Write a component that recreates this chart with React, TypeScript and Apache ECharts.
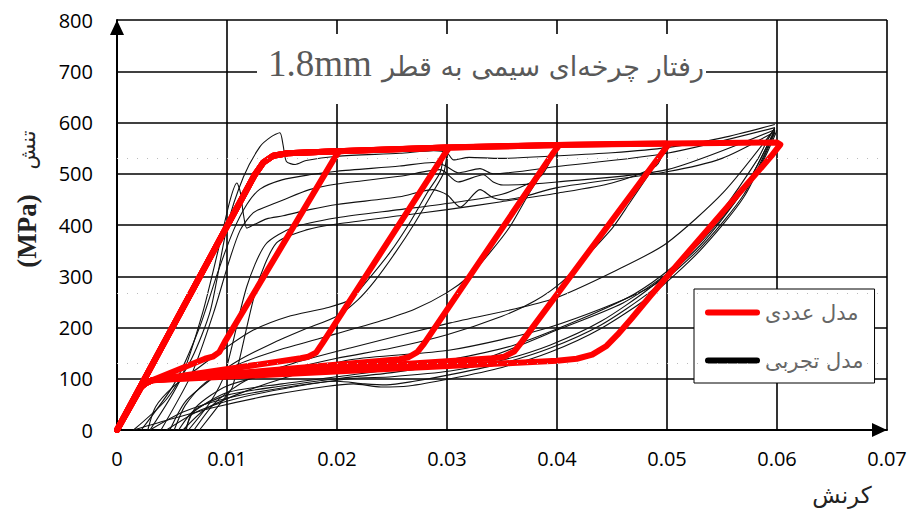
import React, { useEffect, useRef } from 'react';
import * as echarts from 'echarts';

// ---------- text ----------
const NUM = 'مدل عددی';
const EXP = 'مدل تجربی';
const titleLatin = '1.8mm';
const titleFa = 'رفتار چرخه‌ای سیمی به قطر';
const yNameLatin = '(MPa)';
const yNameFa = 'تنش';
const xNameFa = 'کرنش';

// ---------- axes ----------
const xMin = 0, xMax = 0.07, xStep = 0.01;
const yMin = 0, yMax = 800, yStep = 100;

// ---------- numerical model (red) loops ----------
const red02 = [[0,0],[0.0125,497],[0.0133,522],[0.0142,535],[0.0155,540],[0.0199,544],[0.0201,541],[0.0197,528],[0.0098,172],[0.0093,152],[0.0087,143],[0.0080,139],[0.0032,97],[0.0026,91],[0.0022,84],[0,0]];
const red03 = [[0,0],[0.0125,497],[0.0133,522],[0.0142,535],[0.0155,540],[0.0200,544],[0.0250,548],[0.0299,551],[0.0301,548],[0.0297,536],[0.0187,170],[0.0181,151],[0.0174,143],[0.0167,140],[0.0032,97],[0.0026,91],[0.0022,84],[0,0]];
const red04 = [[0,0],[0.0125,497],[0.0133,522],[0.0142,535],[0.0155,540],[0.0200,544],[0.0300,551],[0.0350,554],[0.0399,556],[0.0401,553],[0.0397,542],[0.0279,168],[0.0273,152],[0.0265,142],[0.0257,138],[0.0032,97],[0.0026,91],[0.0022,84],[0,0]];
const red05 = [[0,0],[0.0125,497],[0.0133,522],[0.0142,535],[0.0155,540],[0.0200,544],[0.0300,551],[0.0400,556],[0.0450,558],[0.0499,559],[0.0501,556],[0.0497,545],[0.0368,172],[0.0361,153],[0.0352,143],[0.0342,140],[0.0032,97],[0.0026,91],[0.0022,84],[0,0]];
const red06 = [[0,0],[0.0125,497],[0.0133,522],[0.0142,535],[0.0155,540],[0.0200,544],[0.0300,551],[0.0400,556],[0.0500,559],[0.0550,560],[0.0600,561],[0.0603,557],[0.0599,546],[0.0595,535],[0.0485,262],[0.0468,218],[0.0455,186],[0.0445,164],[0.0432,147],[0.0418,139],[0.0400,135],[0.0032,97],[0.0026,91],[0.0022,84],[0,0]];

// ---------- experimental (black) curves ----------
const K1 = [[0.0015,0],[0.0045,60],[0.0068,140],[0.0085,234],[0.0100,396],[0.0115,494],[0.0130,553],[0.0140,572],[0.0148,580],[0.0151,556],[0.0154,524],[0.0162,518],[0.0172,526],[0.0200,534],[0.0257,540],[0.0288,545],[0.0300,541],[0.0306,527],[0.0320,532],[0.0348,530],[0.0400,535],[0.0450,541],[0.0500,551],[0.0550,570],[0.0598,596]];
const K2 = [[0.0030,0],[0.0058,100],[0.0078,230],[0.0093,360],[0.0103,450],[0.0109,482],[0.0112,465],[0.0115,420],[0.0118,394],[0.0124,400],[0.0136,412],[0.0151,418],[0.0175,430],[0.0200,440],[0.0257,455],[0.0287,469],[0.0300,459],[0.0312,435],[0.0330,469],[0.0342,453],[0.0351,449],[0.0369,455],[0.0400,473],[0.0500,504],[0.0550,530],[0.0598,582]];
const K3 = [[0.0040,0],[0.0068,110],[0.0088,230],[0.0102,330],[0.0112,390],[0.0124,424],[0.0136,436],[0.0151,449],[0.0175,469],[0.0200,480],[0.0257,495],[0.0294,508],[0.0310,484],[0.0333,498],[0.0342,484],[0.0351,478],[0.0400,484],[0.0500,508],[0.0598,586]];
const K4 = [[0.0022,0],[0.0052,90],[0.0075,200],[0.0092,310],[0.0106,390],[0.0118,440],[0.0130,470],[0.0150,488],[0.0175,498],[0.0200,505],[0.0257,515],[0.0287,522],[0.0298,516],[0.0310,502],[0.0330,510],[0.0342,500],[0.0400,514],[0.0500,540],[0.0598,590]];
const K5 = [[0.0075,0],[0.0095,55],[0.0105,84],[0.0127,279],[0.0145,365],[0.0173,391],[0.0200,402],[0.0257,418],[0.0300,430],[0.0348,445],[0.0400,462],[0.0450,482],[0.0490,515],[0.0498,552]];
const K6 = [[0.0065,0],[0.0085,55],[0.0098,110],[0.0118,280],[0.0135,362],[0.0160,395],[0.0200,414],[0.0257,430],[0.0300,442],[0.0350,460],[0.0385,495],[0.0398,545]];
const U3a = [[0.0297,545],[0.0294,504],[0.0282,463],[0.0266,404],[0.0248,346],[0.0227,290],[0.0212,254],[0.0190,238],[0.0155,221],[0.0124,195],[0.0100,162],[0.0075,123],[0.0051,84],[0.0035,45],[0.0028,0]];
const U3b = [[0.0300,540],[0.0297,502],[0.0286,460],[0.0271,405],[0.0253,346],[0.0234,290],[0.0219,254],[0.0200,222],[0.0170,196],[0.0140,168],[0.0110,135],[0.0085,98],[0.0062,55],[0.0048,0]];
const U4 = [[0.0398,545],[0.0394,527],[0.0375,463],[0.0357,396],[0.0339,346],[0.0320,300],[0.0300,268],[0.0270,235],[0.0240,213],[0.0200,188],[0.0150,158],[0.0110,128],[0.0080,92],[0.0062,48],[0.0052,0]];
const U5 = [[0.0498,552],[0.0494,533],[0.0482,494],[0.0466,443],[0.0451,396],[0.0430,346],[0.0405,290],[0.0380,252],[0.0350,222],[0.0300,186],[0.0250,160],[0.0200,140],[0.0150,115],[0.0100,86],[0.0072,45],[0.0062,0]];
const U6a = [[0.0598,590],[0.0590,560],[0.0582,527],[0.0551,430],[0.0521,352],[0.0500,305],[0.0460,248],[0.0400,195],[0.0339,143],[0.0300,128],[0.0250,112],[0.0200,100],[0.0150,86],[0.0100,68],[0.0070,38],[0.0056,0]];
const U6b = [[0.0600,585],[0.0594,555],[0.0586,520],[0.0560,445],[0.0530,370],[0.0505,318],[0.0470,265],[0.0420,215],[0.0360,165],[0.0300,136],[0.0250,118],[0.0200,104],[0.0150,90],[0.0100,73],[0.0068,32],[0.0063,0]];
const LA = [[0.0070,0],[0.0090,55],[0.0120,100],[0.0160,130],[0.0212,160],[0.0303,209],[0.0394,254],[0.0460,318],[0.0500,365],[0.0551,463],[0.0598,588]];
const LB = [[0.0060,0],[0.0080,40],[0.0110,70],[0.0150,100],[0.0212,137],[0.0303,156],[0.0394,201],[0.0485,279],[0.0530,360],[0.0570,470],[0.0598,585]];
const LC1 = [[0.0030,0],[0.0060,35],[0.0100,62],[0.0150,82],[0.0200,95],[0.0225,90],[0.0245,88],[0.0270,95],[0.0303,108],[0.0350,130],[0.0394,160],[0.0440,205],[0.0485,270],[0.0530,355],[0.0570,460],[0.0598,583]];
const LC2 = [[0.0045,0],[0.0075,38],[0.0110,62],[0.0160,84],[0.0212,100],[0.0250,104],[0.0303,115],[0.0350,136],[0.0394,166],[0.0440,212],[0.0485,278],[0.0530,365],[0.0570,470],[0.0598,586]];
const LC3 = [[0.0015,0],[0.0050,22],[0.0090,45],[0.0140,68],[0.0190,85],[0.0215,90],[0.0240,84],[0.0265,86],[0.0303,100],[0.0350,122],[0.0394,152],[0.0440,198],[0.0485,262],[0.0530,350],[0.0570,455],[0.0598,580]];

// faint dotted scan lines (stress levels)
const dottedLevels = [531, 266, 131];

const redLoops = [red02, red03, red04, red05, red06];
const blackCurves = [K1, K2, K3, K4, K5, K6, U3a, U3b, U4, U5, U6a, U6b, LA, LB, LC1, LC2, LC3];

const pillIcon = 'path://M3,0 H52 A3,3 0 0 1 52,6 H3 A3,3 0 0 1 3,0 Z';

export default function App() {
  const ref = useRef<HTMLDivElement>(null);
  useEffect(() => {
    if (!ref.current) return;
    const chart = echarts.init(ref.current, null, { renderer: 'svg' });
    const series: any[] = [];
    blackCurves.forEach((d, i) => {
      series.push({
        type: 'line',
        name: EXP,
        data: d,
        symbol: 'none',
        showSymbol: false,
        smooth: 0.25,
        silent: true,
        z: 2,
        lineStyle: { color: '#111', width: 1.1 },
        itemStyle: { color: '#000' },
        markLine: i === 0 ? {
          silent: true,
          symbol: 'none',
          label: { show: false },
          lineStyle: { type: [1, 9], color: '#bbb', width: 1 },
          data: dottedLevels.map((v) => ({ yAxis: v })),
        } : undefined,
      });
    });
    redLoops.forEach((d) => {
      series.push({
        type: 'line',
        name: NUM,
        data: d,
        symbol: 'none',
        showSymbol: false,
        silent: true,
        z: 3,
        lineStyle: { color: '#ff0000', width: 6, cap: 'round', join: 'round' },
        itemStyle: { color: '#ff0000' },
      });
    });

    chart.setOption({
      animation: false,
      backgroundColor: '#fff',
      grid: { left: 117, right: 22, top: 20, bottom: 80, containLabel: false, outerBoundsMode: 'none' },
      xAxis: {
        type: 'value',
        min: xMin,
        max: xMax,
        interval: xStep,
        axisLine: {
          show: true,
          symbol: ['none', 'triangle'],
          symbolSize: [14, 15],
          symbolOffset: [0, -7.5],
          lineStyle: { color: '#000', width: 2 },
        },
        axisTick: { show: false },
        splitLine: { show: true, lineStyle: { color: '#000', width: 1.6 } },
        axisLabel: {
          margin: 18,
          fontSize: 20,
          fontFamily: 'Open Sans',
          color: '#000',
          showMinLabel: true,
          showMaxLabel: true,
          formatter: (v: number) => (v === 0 ? '0' : v.toFixed(2)),
        },
      },
      yAxis: {
        type: 'value',
        min: yMin,
        max: yMax,
        interval: yStep,
        axisLine: {
          show: true,
          symbol: ['none', 'triangle'],
          symbolSize: [14, 15],
          symbolOffset: [0, -7.5],
          lineStyle: { color: '#000', width: 2 },
        },
        axisTick: { show: false },
        splitLine: { show: true, lineStyle: { color: '#000', width: 1.6 } },
        axisLabel: {
          margin: 24,
          fontSize: 20,
          fontFamily: 'Open Sans',
          color: '#000',
          showMinLabel: true,
          showMaxLabel: true,
        },
      },
      legend: {
        show: true,
        orient: 'vertical',
        left: 694,
        top: 289,
        padding: [13, 11, 12, 11],
        itemGap: 27,
        itemWidth: 55,
        itemHeight: 7,
        backgroundColor: '#fff',
        borderColor: '#000',
        borderWidth: 1,
        borderRadius: 0,
        selectedMode: false,
        textStyle: { fontSize: 21, color: '#666', fontFamily: 'DejaVu Sans' },
        data: [
          { name: NUM, icon: pillIcon, itemStyle: { color: '#ff0000' } },
          { name: EXP, icon: pillIcon, itemStyle: { color: '#000' } },
        ],
      },
      graphic: [
        { type: 'rect', z: 10, shape: { x: 257, y: 34, width: 449, height: 70 }, style: { fill: '#fff' } },
        { type: 'text', z: 11, x: 268, y: 63, style: { text: titleLatin, fontSize: 37, fontFamily: 'Liberation Serif', fill: '#595959', align: 'left', verticalAlign: 'middle', textAlign: 'left', textVerticalAlign: 'middle' } },
        { type: 'text', z: 11, x: 704, y: 66, style: { text: titleFa, fontSize: 27, fontFamily: 'DejaVu Sans', fill: '#595959', align: 'right', verticalAlign: 'middle', textAlign: 'right', textVerticalAlign: 'middle' } },
        { type: 'text', z: 11, x: 27, y: 231, rotation: Math.PI / 2, style: { text: yNameLatin, fontSize: 27, fontWeight: 'bold', fontFamily: 'Liberation Serif', fill: '#222', align: 'center', verticalAlign: 'middle', textAlign: 'center', textVerticalAlign: 'middle' } },
        { type: 'text', z: 11, x: 28, y: 150, rotation: Math.PI / 2, style: { text: yNameFa, fontSize: 21, fontFamily: 'DejaVu Sans', fill: '#222', align: 'center', verticalAlign: 'middle', textAlign: 'center', textVerticalAlign: 'middle' } },
        { type: 'text', z: 11, x: 842, y: 495, style: { text: xNameFa, fontSize: 23, fontFamily: 'DejaVu Sans', fill: '#222', align: 'center', verticalAlign: 'middle', textAlign: 'center', textVerticalAlign: 'middle' } },
      ],
      series,
    });
    return () => chart.dispose();
  }, []);
  return <div ref={ref} style={{ position: 'fixed', left: 0, top: 0, width: 909, height: 510 }} />;
}
